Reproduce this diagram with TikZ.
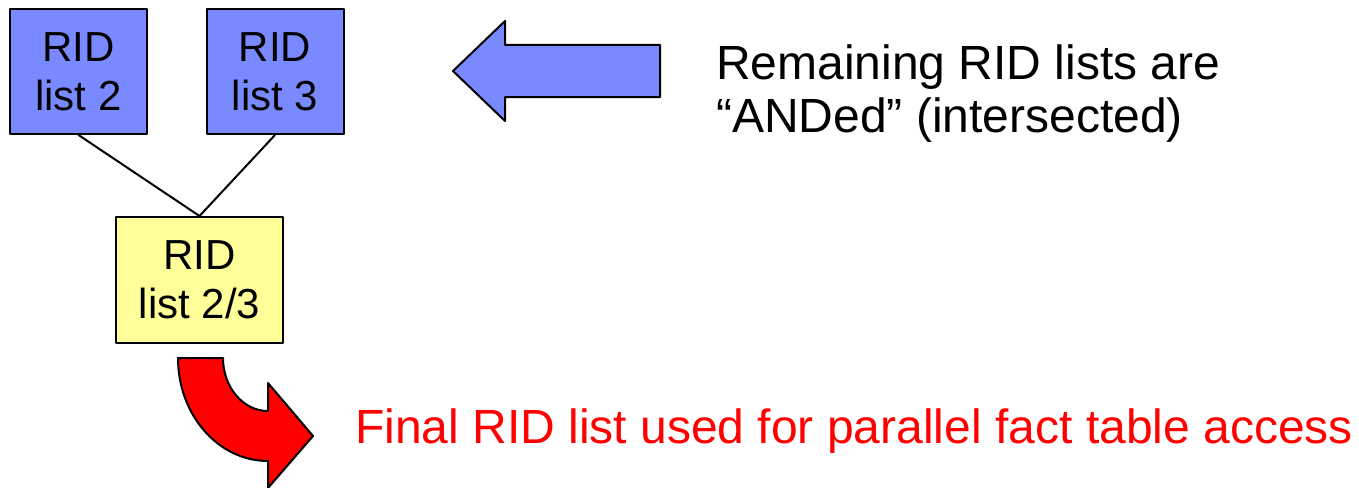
\documentclass[tikz,border=0pt]{standalone}
\usepackage{fontspec}
\setmainfont{Liberation Sans}
\usepackage{tikz}
\definecolor{ridblue}{RGB}{121,137,255}
\definecolor{ridyellow}{RGB}{255,255,153}
\definecolor{ridred}{RGB}{255,0,0}

\begin{document}
\begin{tikzpicture}[line cap=round,line join=round,x=1pt,y=-1pt,
  ridbox/.style={draw,line width=2pt,align=center,inner sep=0pt,
    font=\fontsize{42}{49}\selectfont},
  bluebox/.style={ridbox,fill=ridblue,minimum width=137pt,minimum height=125pt},
  yellowbox/.style={ridbox,fill=ridyellow,minimum width=167pt,minimum height=126pt}]
\useasboundingbox (0,0) rectangle (1359,487);
% the two RID lists and the ANDed result
\node[bluebox] (list2) at (78.5,71.5) {RID\\list 2};
\node[bluebox] (list3) at (275,71.5) {RID\\list 3};
\node[yellowbox] (list23) at (199.5,280) {RID\\list 2/3};
\draw [line width=2pt] (list2.south) -- (list23.north);
\draw [line width=2pt] (list3.south) -- (list23.north);
% block arrow pointing at the lists
\draw [line width=2pt,fill=ridblue] (453,71) -- (505,21) -- (505,45) -- (660,45)
  -- (660,97) -- (505,97) -- (505,121) -- cycle;
\node[anchor=base west,align=left,inner sep=0pt,font=\fontsize{48}{53}\selectfont]
  (note) at (716,132) {Remaining RID lists are\\“ANDed” (intersected)};
% curved arrow out of the result
\draw [line width=2pt,fill=ridred] (178,358) -- (223,358)
  arc[start angle=180,end angle=270,x radius=45pt,y radius=53pt]
  -- (268,383) -- (313,436) -- (268,488) -- (268,461)
  arc[start angle=270,end angle=180,x radius=90pt,y radius=103pt] -- cycle;
\node[anchor=base west,inner sep=0pt,text=ridred,font=\fontsize{48}{55}\selectfont]
  (final) at (355,443) {Final RID list used for parallel fact table access};
\end{tikzpicture}
\end{document}
